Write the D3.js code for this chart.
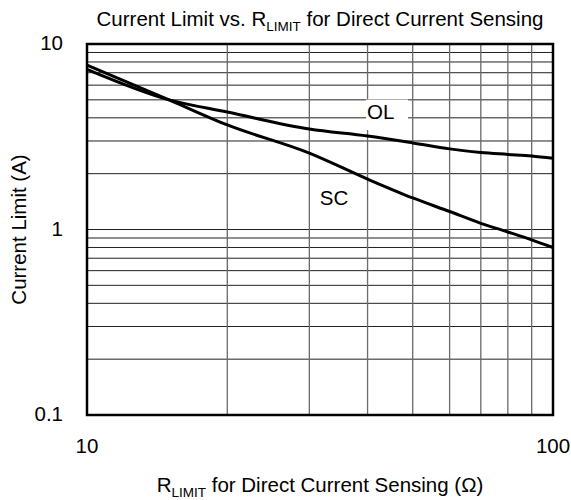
<!DOCTYPE html>
<html>
<head>
<meta charset="utf-8">
<script src="https://cdn.jsdelivr.net/npm/d3@7"></script>
<style>
  body { margin: 0; background: #fff; }
  svg { font-family: "Liberation Sans", Arial, sans-serif; }
</style>
</head>
<body>
<div id="chart"></div>
<script>
// R_LIMIT values (ohm)
const rLimit = [10, 15, 20, 30, 40, 50, 60, 70, 80, 90, 100];
// over-load current limit (A)
const olValues = [7.3, 5.0, 4.3, 3.48, 3.19, 2.93, 2.72, 2.6, 2.54, 2.49, 2.42];
// short-circuit current limit (A)
const scValues = [7.7, 5.0, 3.66, 2.58, 1.87, 1.48, 1.25, 1.08, 0.97, 0.88, 0.8];
const xTicks = [10, 100];
const yTicks = [0.1, 1, 10];

const width = 571, height = 500;
const margin = { top: 44, right: 18, bottom: 85, left: 87 };
const innerW = width - margin.left - margin.right;
const innerH = height - margin.top - margin.bottom;
const fs = "20.5px";

const svg = d3.select("#chart").append("svg")
    .attr("width", width)
    .attr("height", height);

const g = svg.append("g")
    .attr("transform", `translate(${margin.left},${margin.top})`);

const x = d3.scaleLog().domain([10, 100]).range([0, innerW]);
const y = d3.scaleLog().domain([0.1, 10]).range([innerH, 0]);

// grid lines
const xGrid = d3.range(2, 10).map(d => d * 10);
const yGrid = [];
[0.1, 1].forEach(dec => d3.range(2, 10).forEach(k => yGrid.push(dec * k)));
yGrid.push(1);

g.append("g").selectAll("line")
    .data(yGrid)
    .join("line")
    .attr("x1", 0).attr("x2", innerW)
    .attr("y1", d => y(d)).attr("y2", d => y(d))
    .style("stroke", "#222")
    .style("stroke-width", 1);

g.append("g").selectAll("line")
    .data(xGrid)
    .join("line")
    .attr("x1", d => x(d)).attr("x2", d => x(d))
    .attr("y1", 0).attr("y2", innerH)
    .style("stroke", "#6a6a6a")
    .style("stroke-width", 1.3);

// curves
const line = d3.line()
    .x(d => x(d[0]))
    .y(d => y(d[1]))
    .curve(d3.curveMonotoneX);

[olValues, scValues].forEach(vals => {
    g.append("path")
        .datum(rLimit.map((r, i) => [r, vals[i]]))
        .attr("d", line)
        .style("fill", "none")
        .style("stroke", "#000")
        .style("stroke-width", 3);
});

// curve labels, OL sits on a white box that hides the grid
const labels = [
    { text: "OL", r: 39.9, v: 3.94, box: [-1, -19.5, 42, 30.5] },
    { text: "SC", r: 31.6, v: 1.355 }
];
labels.forEach(l => {
    if (l.box) {
        g.append("rect")
            .attr("x", x(l.r) + l.box[0])
            .attr("y", y(l.v) + l.box[1])
            .attr("width", l.box[2])
            .attr("height", l.box[3])
            .style("fill", "#fff");
    }
    g.append("text")
        .attr("x", x(l.r))
        .attr("y", y(l.v))
        .attr("font-size", fs)
        .text(l.text);
});

// frame
g.append("rect")
    .attr("width", innerW)
    .attr("height", innerH)
    .style("fill", "none")
    .style("stroke", "#000")
    .style("stroke-width", 2.5);

// tick labels
g.append("g").selectAll("text")
    .data(xTicks)
    .join("text")
    .attr("x", d => x(d))
    .attr("y", innerH + 38)
    .attr("text-anchor", "middle")
    .attr("font-size", fs)
    .text(d => d);

g.append("g").selectAll("text")
    .data(yTicks)
    .join("text")
    .attr("x", -24)
    .attr("y", d => y(d))
    .attr("dy", "0.3em")
    .attr("text-anchor", "end")
    .attr("font-size", fs)
    .text(d => d);

// title
const title = svg.append("text")
    .attr("x", 320)
    .attr("y", 26)
    .attr("text-anchor", "middle")
    .attr("font-size", fs);
title.append("tspan").text("Current Limit vs. R");
title.append("tspan").attr("font-size", "13.5px").attr("dy", 5).text("LIMIT");
title.append("tspan").attr("dy", -5).text(" for Direct Current Sensing");

// x axis title
const xt = svg.append("text")
    .attr("x", 320)
    .attr("y", 492)
    .attr("text-anchor", "middle")
    .attr("font-size", fs);
xt.append("tspan").text("R");
xt.append("tspan").attr("font-size", "13.5px").attr("dy", 5).text("LIMIT");
xt.append("tspan").attr("dy", -5).text(" for Direct Current Sensing (Ω)");

// y axis title
svg.append("text")
    .attr("transform", `translate(26,${margin.top + innerH / 2}) rotate(-90)`)
    .attr("text-anchor", "middle")
    .attr("font-size", fs)
    .text("Current Limit (A)");
</script>
</body>
</html>
